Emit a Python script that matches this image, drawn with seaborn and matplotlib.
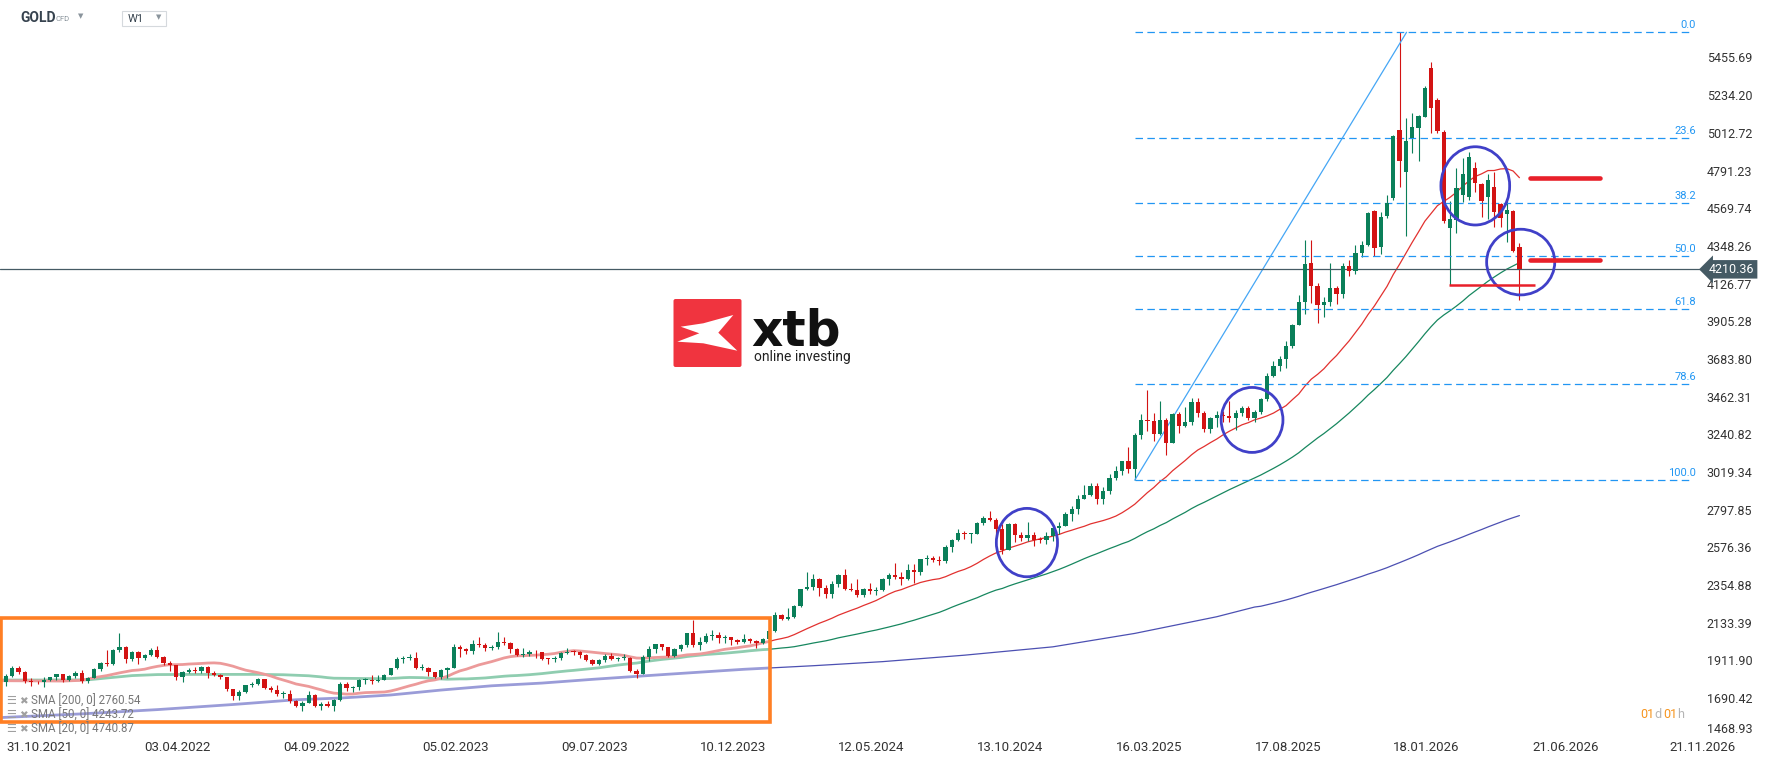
import numpy as np
import pandas as pd
import seaborn as sns
import matplotlib.pyplot as plt
from matplotlib.patches import Rectangle, Ellipse, Polygon, FancyBboxPatch
from matplotlib.transforms import blended_transform_factory, offset_copy

# --- weekly GOLD candles (first candle = week of 31.10.2021) ---
first_week = "2021-10-31"

opens = [
    1783, 1818, 1868, 1845, 1792, 1783, 1782, 1798, 1811, 1829,
    1797, 1817, 1835, 1791, 1808, 1859, 1898, 1889, 1970, 1988,
    1921, 1958, 1925, 1945, 1974, 1931, 1896, 1883, 1811, 1846,
    1853, 1851, 1871, 1839, 1826, 1811, 1742, 1703, 1727, 1766,
    1775, 1802, 1747, 1737, 1712, 1716, 1675, 1644, 1661, 1709,
    1644, 1656, 1644, 1681, 1771, 1751, 1754, 1797, 1797, 1792,
    1798, 1824, 1865, 1920, 1926, 1928, 1865, 1865, 1842, 1811,
    1856, 1868, 1989, 1978, 1969, 2007, 2004, 1983, 1990, 2017,
    2011, 1977, 1946, 1948, 1961, 1958, 1920, 1919, 1925, 1955,
    1962, 1959, 1943, 1914, 1889, 1915, 1940, 1919, 1924, 1925,
    1849, 1833, 1932, 1981, 2006, 1993, 1940, 1981, 2002, 2072,
    2004, 2019, 2053, 2063, 2045, 2049, 2029, 2018, 2039, 2024,
    2013, 2035, 2083, 2179, 2155, 2165, 2230, 2330, 2344, 2392,
    2337, 2301, 2360, 2415, 2334, 2327, 2293, 2332, 2322, 2326,
    2392, 2411, 2400, 2387, 2443, 2431, 2507, 2512, 2503, 2497,
    2577, 2622, 2658, 2653, 2656, 2721, 2747, 2736, 2685, 2563,
    2716, 2650, 2633, 2648, 2622, 2621, 2640, 2690, 2703, 2770,
    2800, 2861, 2882, 2936, 2858, 2910, 2984, 3023, 3084, 3037,
    3237, 3327, 3318, 3240, 3325, 3187, 3357, 3289, 3310, 3433,
    3368, 3274, 3337, 3355, 3350, 3337, 3363, 3398, 3336, 3371,
    3448, 3586, 3643, 3685, 3760, 3886, 4018, 4245, 4110, 4001,
    4020, 4100, 4065, 4232, 4200, 4308, 4352, 4553, 4343, 4526,
    4632, 5029, 4784, 4980, 5043, 5108, 5392, 5206, 5019, 4451,
    4500, 4647, 4637, 4804, 4712, 4637, 4692, 4592, 4535, 4553,
    4343,
]
highs = [
    1831, 1877, 1877, 1849, 1808, 1793, 1813, 1816, 1831, 1830,
    1828, 1848, 1853, 1815, 1866, 1903, 1974, 1976, 2074, 1995,
    1966, 1966, 1950, 1982, 1998, 1937, 1909, 1885, 1850, 1869,
    1870, 1876, 1879, 1847, 1830, 1813, 1745, 1739, 1768, 1784,
    1807, 1804, 1758, 1765, 1729, 1735, 1681, 1675, 1730, 1714,
    1668, 1675, 1685, 1787, 1786, 1763, 1804, 1810, 1824, 1823,
    1834, 1865, 1929, 1937, 1949, 1959, 1890, 1870, 1846, 1858,
    1870, 2010, 2003, 1987, 2032, 2048, 2015, 2004, 2079, 2048,
    2022, 1985, 1983, 1970, 1971, 1961, 1925, 1935, 1960, 1987,
    1974, 1968, 1948, 1917, 1920, 1949, 1953, 1931, 1947, 1933,
    1858, 1945, 1997, 2009, 2010, 1993, 1986, 2008, 2075, 2146,
    2048, 2070, 2088, 2078, 2063, 2043, 2040, 2065, 2044, 2031,
    2041, 2088, 2195, 2185, 2222, 2235, 2331, 2431, 2418, 2395,
    2353, 2378, 2422, 2450, 2364, 2388, 2337, 2368, 2340, 2394,
    2425, 2483, 2433, 2477, 2477, 2509, 2531, 2528, 2525, 2589,
    2626, 2686, 2672, 2663, 2724, 2758, 2790, 2750, 2711, 2721,
    2722, 2666, 2726, 2664, 2636, 2664, 2698, 2726, 2786, 2818,
    2882, 2942, 2956, 2955, 2930, 3005, 3057, 3086, 3167, 3246,
    3357, 3500, 3368, 3438, 3335, 3366, 3370, 3403, 3452, 3451,
    3378, 3345, 3375, 3375, 3439, 3385, 3409, 3404, 3383, 3453,
    3600, 3674, 3700, 3791, 3890, 4059, 4381, 4381, 4130, 4045,
    4245, 4110, 4245, 4265, 4353, 4375, 4550, 4560, 4545, 4650,
    5000, 5604, 5098, 5127, 5120, 5290, 5427, 5215, 5030, 4612,
    4808, 4863, 4902, 4841, 4720, 4771, 4784, 4600, 4618, 4560,
    4367,
]
lows = [
    1759, 1812, 1834, 1778, 1762, 1771, 1753, 1788, 1794, 1785,
    1790, 1805, 1780, 1780, 1805, 1850, 1878, 1885, 1962, 1895,
    1910, 1890, 1916, 1937, 1928, 1886, 1850, 1797, 1787, 1840,
    1838, 1836, 1805, 1817, 1800, 1733, 1681, 1680, 1718, 1754,
    1764, 1746, 1727, 1702, 1691, 1660, 1640, 1615, 1658, 1640,
    1618, 1637, 1616, 1670, 1730, 1727, 1740, 1770, 1773, 1785,
    1795, 1824, 1862, 1896, 1911, 1861, 1853, 1819, 1805, 1804,
    1809, 1864, 1934, 1949, 1950, 1993, 1969, 1975, 1978, 2000,
    1952, 1940, 1932, 1939, 1925, 1915, 1893, 1902, 1912, 1951,
    1942, 1926, 1910, 1885, 1885, 1904, 1914, 1906, 1915, 1846,
    1810, 1833, 1908, 1954, 1974, 1930, 1931, 1965, 1993, 1991,
    1973, 2016, 2034, 2013, 2013, 2002, 2010, 2015, 2015, 1984,
    2010, 2025, 2078, 2146, 2146, 2163, 2228, 2325, 2324, 2291,
    2281, 2277, 2345, 2325, 2320, 2286, 2286, 2303, 2293, 2319,
    2353, 2391, 2353, 2384, 2364, 2414, 2470, 2491, 2472, 2485,
    2546, 2614, 2624, 2603, 2652, 2708, 2729, 2643, 2536, 2564,
    2605, 2613, 2613, 2583, 2600, 2596, 2615, 2656, 2699, 2730,
    2772, 2861, 2880, 2833, 2832, 2890, 2973, 2999, 3015, 2970,
    3210, 3261, 3202, 3236, 3121, 3205, 3246, 3285, 3293, 3341,
    3255, 3247, 3283, 3310, 3310, 3268, 3351, 3324, 3311, 3359,
    3436, 3578, 3613, 3628, 3750, 3884, 3945, 4014, 3893, 3930,
    3997, 4008, 4040, 4171, 4180, 4285, 4345, 4289, 4300, 4510,
    4620, 4696, 4408, 4892, 4849, 5105, 5010, 5010, 4485, 4118,
    4426, 4608, 4620, 4667, 4520, 4506, 4461, 4461, 4373, 4315,
    4030,
]
closes = [
    1818, 1868, 1845, 1792, 1783, 1782, 1798, 1811, 1829, 1797,
    1817, 1835, 1791, 1808, 1859, 1898, 1889, 1970, 1988, 1921,
    1958, 1925, 1945, 1974, 1931, 1896, 1883, 1811, 1846, 1853,
    1851, 1871, 1839, 1826, 1811, 1742, 1703, 1727, 1766, 1775,
    1802, 1747, 1737, 1712, 1716, 1675, 1644, 1661, 1709, 1644,
    1656, 1644, 1681, 1771, 1751, 1754, 1797, 1797, 1792, 1798,
    1824, 1865, 1920, 1926, 1928, 1865, 1865, 1842, 1811, 1856,
    1868, 1989, 1978, 1969, 2007, 2004, 1983, 1990, 2017, 2011,
    1977, 1946, 1948, 1961, 1958, 1920, 1919, 1925, 1955, 1962,
    1959, 1943, 1914, 1889, 1915, 1940, 1919, 1924, 1925, 1849,
    1833, 1932, 1981, 2006, 1993, 1940, 1981, 2002, 2072, 2004,
    2019, 2053, 2063, 2045, 2049, 2029, 2018, 2039, 2024, 2013,
    2035, 2083, 2179, 2155, 2165, 2230, 2330, 2344, 2392, 2337,
    2301, 2360, 2415, 2334, 2327, 2293, 2332, 2322, 2326, 2392,
    2411, 2400, 2387, 2443, 2431, 2507, 2512, 2503, 2497, 2577,
    2622, 2658, 2653, 2656, 2721, 2747, 2736, 2685, 2563, 2716,
    2650, 2633, 2648, 2622, 2621, 2640, 2690, 2703, 2770, 2800,
    2861, 2882, 2936, 2858, 2910, 2984, 3023, 3084, 3037, 3237,
    3327, 3318, 3240, 3325, 3187, 3357, 3289, 3310, 3433, 3368,
    3274, 3337, 3355, 3350, 3337, 3363, 3398, 3336, 3371, 3448,
    3586, 3643, 3685, 3760, 3886, 4018, 4240, 4110, 4001, 4020,
    4100, 4065, 4232, 4200, 4308, 4352, 4539, 4334, 4520, 4598,
    4996, 4849, 4965, 5049, 5110, 5274, 5161, 5025, 4496, 4506,
    4686, 4771, 4869, 4720, 4614, 4735, 4549, 4514, 4559, 4320,
    4210,
]

sma20_head_at = [-1, 3, 6, 9, 12, 14, 16, 18]
sma20_head = [1792, 1791, 1790, 1790, 1794, 1810, 1822, 1838]
sma50_head_at = [-1, 6, 13, 16, 20, 24, 30, 36, 40, 44, 48]
sma50_head = [1796, 1796, 1797, 1808, 1822, 1828, 1829, 1829, 1829, 1827, 1821]
sma200_head_at = [-1, 12, 24, 36, 46, 53, 61, 69, 77, 85, 93, 105, 117, 128, 139, 152, 166, 179, 192, 198]
sma200_head = [1575, 1597, 1622, 1652, 1680, 1690, 1708, 1737, 1762, 1778, 1800, 1830, 1859, 1880,
               1904, 1942, 1991, 2070, 2168, 2225]
sma_legend = ["SMA [200, 0] 2760.54", "SMA [50, 0] 4243.72", "SMA [20, 0] 4740.87"]

last_price = 4210.36
fib_high, fib_low = 5604, 2971
fib_levels = [0.0, 23.6, 38.2, 50.0, 61.8, 78.6, 100.0]

price_ticks = [5455.69, 5234.20, 5012.72, 4791.23, 4569.74, 4348.26, 4126.77, 3905.28, 3683.80,
               3462.31, 3240.82, 3019.34, 2797.85, 2576.36, 2354.88, 2133.39, 1911.90, 1690.42, 1468.93]
date_ticks = ["31.10.2021", "03.04.2022", "04.09.2022", "05.02.2023", "09.07.2023", "10.12.2023",
              "12.05.2024", "13.10.2024", "16.03.2025", "17.08.2025", "18.01.2026", "21.06.2026",
              "21.11.2026"]

# --- style ---
GREEN, RED = "#0a7f59", "#d31313"
SMA_COLORS = {20: ("#e2312f", "#ec9a9a"), 50: ("#17875f", "#8fcdb0"), 200: ("#4c50b2", "#9a9cd8")}
FIB_BLUE = "#2196f3"
W, H = 1768, 761

sns.set_theme(style="white")
plt.rcParams["font.family"] = ["Roboto", "DejaVu Sans"]

fig = plt.figure(figsize=(W / 100, H / 100), dpi=100)
ax = fig.add_axes([0, 24 / H, 1704 / W, 737 / H])
ax.set_xlim(-0.95, 269.27)
ax.set_ylim(1461.0, 5793.7)
for sp in ax.spines.values():
    sp.set_visible(False)

o = np.array(opens, float)
h = np.array(highs, float)
l = np.array(lows, float)
c = np.array(closes, float)
h = np.maximum(h, np.maximum(o, c))
l = np.minimum(l, np.minimum(o, c))
idx = np.arange(len(c))
col = np.where(c >= o, GREEN, RED)

# orange highlight box (also used as clip for the pale MA strokes inside it)
BOX_RIGHT = 121.2
box = Rectangle((-0.8, 1547), BOX_RIGHT + 0.8, 2162 - 1547, fill=False, ec="#ff7f24", lw=2.6,
                zorder=5, clip_on=False)
ax.add_patch(box)
outside = Rectangle((BOX_RIGHT, 0), 1000, 10000, transform=ax.transData)

# moving averages
close_s = pd.Series(c, index=idx)
for win, head_at, head_vals in [(200, sma200_head_at, sma200_head),
                                (50, sma50_head_at, sma50_head),
                                (20, sma20_head_at, sma20_head)]:
    tail = close_s.rolling(win).mean().dropna()
    s = pd.concat([pd.Series(head_vals, index=head_at, dtype=float), tail])
    thin, pale = SMA_COLORS[win]
    sns.lineplot(x=s.index, y=s.values, ax=ax, color=pale, lw=2.0, sort=False, estimator=None, zorder=2)
    ax.lines[-1].set_clip_path(box)
    sns.lineplot(x=s.index, y=s.values, ax=ax, color=thin, lw=0.9, sort=False, estimator=None, zorder=2)
    ax.lines[-1].set_clip_path(outside)

# candles
ax.vlines(idx, l, h, colors=col, lw=0.8, zorder=3)
ax.bar(idx, np.maximum(np.abs(c - o), 5.0), bottom=np.minimum(o, c), width=0.68, color=col, lw=0, zorder=4)

# current price line + tag
ax.axhline(last_price, color="#455a64", lw=0.9, zorder=3.5)
tr = blended_transform_factory(ax.transAxes, ax.transData)
ax.text(1.003, last_price, f"{last_price:.2f}", transform=tr, ha="left", va="center", color="white",
        fontsize=9, zorder=7, clip_on=False,
        bbox=dict(boxstyle="larrow,pad=0.22", fc="#455a64", ec="none"))

# fibonacci retracement
FIB_X0, FIB_X1 = 179.0, 267.6
lbl_tr = offset_copy(ax.transData, fig=fig, y=2, units="dots")
for r in fib_levels:
    lvl = fib_high - r / 100 * (fib_high - fib_low)
    ax.hlines(lvl, FIB_X0, FIB_X1, colors=FIB_BLUE, lw=0.9, linestyles=(0, (6, 3.5)), zorder=3)
    ax.text(268.0, lvl, f"{r:.1f}", transform=lbl_tr, ha="right", va="bottom", fontsize=8,
            color=FIB_BLUE, zorder=6)
ax.plot([FIB_X0, 222.1], [fib_low, fib_high], color="#45a6f5", lw=0.9, zorder=3)

# blue circles
for (cx, cy, cw, ch) in [(161.9, 2604, 9.7, 402), (197.6, 3325, 9.8, 382),
                         (233.0, 4701, 10.9, 460), (240.2, 4253, 10.8, 386)]:
    ax.add_patch(Ellipse((cx, cy), cw, ch, fill=False, ec="#4040c8", lw=2.0, zorder=6))

# red levels
thick = ax.hlines([4745, 4263], 241.7, 252.7, colors="#e8202a", lw=3.3, zorder=6)
thick.set_capstyle("round")
ax.hlines(4118, 228.9, 242.5, colors="#e8202a", lw=1.8, zorder=6)

# axes ticks
ax.yaxis.tick_right()
ax.set_yticks(price_ticks)
ax.set_yticklabels([f"{v:.2f}" for v in price_ticks])
ax.tick_params(axis="y", length=0, pad=2, labelsize=9, labelcolor="#333333")
for t in ax.get_yticklabels():
    if t.get_text() == "1468.93":
        t.set_va("bottom")
date_pos = [(pd.to_datetime(d, dayfirst=True) - pd.Timestamp(first_week)).days / 7 for d in date_ticks]
ax.set_xticks(date_pos)
ax.set_xticklabels(date_ticks, ha="left")
ax.tick_params(axis="x", length=0, pad=3, labelsize=9.5, labelcolor="#333333")
ax.set_xlabel("")
ax.set_ylabel("")
ax.grid(False)

# --- overlay in pixel coordinates for the header, logo and legend ---
ov = fig.add_axes([0, 0, 1, 1], zorder=10)
ov.set_xlim(0, W)
ov.set_ylim(H, 0)
ov.axis("off")
ov.patch.set_alpha(0)

ov.text(20, 18, "GOLD", fontsize=10, fontweight="bold", color="#37434f", va="center")
ov.text(56, 19, "CFD", fontsize=5.5, color="#8a949c", va="center")
ov.text(81, 16, "▼", fontsize=5, color="#8a949c", va="center", ha="center", family=["DejaVu Sans"])
ov.add_patch(Rectangle((122, 10.5), 44, 15, fill=False, ec="#d5d9dd", lw=0.8))
ov.text(128, 18.5, "W1", fontsize=8, color="#37434f", va="center")
ov.text(158.5, 17, "▼", fontsize=5, color="#8a949c", va="center", ha="center", family=["DejaVu Sans"])

for i, txt in enumerate(sma_legend):
    y = 701 + 14 * i
    ov.text(6, y, "☰", fontsize=8, color="#a0a0a0", va="center", family=["DejaVu Sans"])
    ov.text(19, y, "✖", fontsize=7.5, color="#a0a0a0", va="center", family=["DejaVu Sans"])
    ov.text(31, y, txt, fontsize=8.3, color="#777777", va="center")

# xtb logo
ov.add_patch(FancyBboxPatch((673.5, 299), 68, 68, boxstyle="round,pad=0,rounding_size=2",
                            fc="#f0343f", ec="none"))
ov.add_patch(Polygon([(680.7, 326.7), (703.3, 323.3), (733.3, 315), (718.3, 332.7),
                      (737.3, 350.7), (703.3, 343.3), (677.3, 341.7), (699.3, 333.3)],
                     closed=True, fc="white", ec="none"))
ov.text(751, 345, "xtb", fontsize=35, fontweight="bold", color="#111111", ha="left", va="baseline",
        family=["DejaVu Sans"])
ov.text(754, 361, "online investing", fontsize=10, color="#222222", ha="left", va="baseline")

# countdown
for txt, x, colr in [("01", 1640, "#f7941d"), ("d", 1654, "#b5b5b5"), ("01", 1663, "#f7941d"), ("h", 1677, "#b5b5b5")]:
    ov.text(x, 714, txt, fontsize=9, color=colr, va="center", ha="left")

fig.savefig("out.png", dpi=100)
